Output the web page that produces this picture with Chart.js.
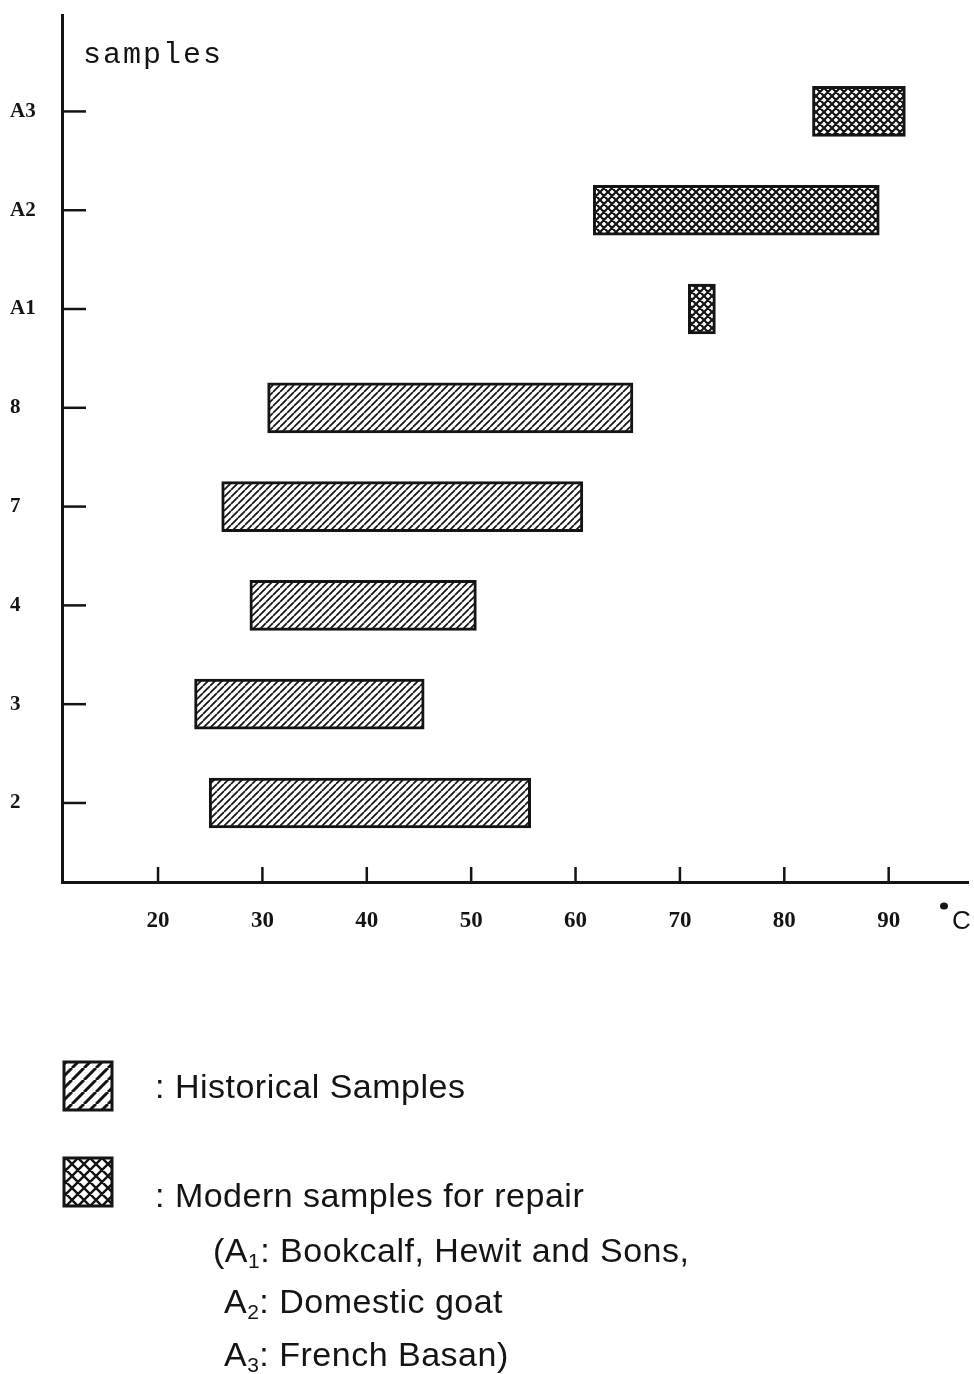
<!DOCTYPE html>
<html>
<head>
<meta charset="utf-8">
<script src="https://cdn.jsdelivr.net/npm/chart.js@4/dist/chart.umd.min.js"></script>
<style>
  html, body { margin: 0; padding: 0; background: #fff; }
  #wrap { width: 974px; height: 1374px; }
</style>
</head>
<body>
<div id="wrap"><canvas id="chart" width="974" height="1374"></canvas></div>
<script>
// samples, bottom to top on the y axis
const sampleLabels = ['2', '3', '4', '7', '8', 'A1', 'A2', 'A3'];
const sampleRows = [1, 2, 3, 4, 5, 6, 7, 8];

// historical samples: shrinkage temperature range (°C)
const historicalRows = [1, 2, 3, 4, 5];
const historicalStart = [24.9, 23.5, 28.8, 26.1, 30.5];
const historicalEnd = [55.7, 45.5, 50.5, 60.7, 65.5];

// modern samples for repair
const modernRows = [6, 7, 8];
const modernStart = [70.8, 61.7, 82.7];
const modernEnd = [73.4, 89.1, 91.6];

const tempTicks = [20, 30, 40, 50, 60, 70, 80, 90];

const INK = '#141414';

// hatch fills
function makeHatch(size, lw, cross) {
  const c = document.createElement('canvas');
  c.width = c.height = size;
  const g = c.getContext('2d');
  g.fillStyle = '#fff';
  g.fillRect(0, 0, size, size);
  g.strokeStyle = INK;
  g.lineWidth = lw;
  g.beginPath();
  for (const k of [-size, 0, size]) {
    g.moveTo(k, size);
    g.lineTo(k + size, 0);
    if (cross) {
      g.moveTo(k, 0);
      g.lineTo(k + size, size);
    }
  }
  g.stroke();
  return g.createPattern(c, 'repeat');
}

const ctx = document.getElementById('chart').getContext('2d');
const diagFill = makeHatch(7, 1.7, false);
const crossFill = makeHatch(8, 2.2, true);
const diagSwatch = makeHatch(12, 3, false);
const crossSwatch = makeHatch(12, 2.4, true);

// text with subscript digits, parts = [[text, isSub], ...]
function drawParts(g, x, y, parts, size) {
  g.letterSpacing = '0.5px';
  for (const [t, sub] of parts) {
    g.font = (sub ? Math.round(size * 0.62) : size) + 'px "Liberation Sans", Arial, sans-serif';
    g.fillText(t, x, sub ? y + size * 0.18 : y);
    x += g.measureText(t).width;
  }
  g.letterSpacing = '0px';
}

const decorations = {
  id: 'decorations',
  afterDatasetsDraw(chart) {
    const { ctx: g, scales: { x, y }, chartArea: a } = chart;
    g.save();
    g.strokeStyle = INK;
    g.lineWidth = 2.5;
    // inward tick marks
    x.ticks.forEach(t => {
      const px = x.getPixelForValue(t.value);
      g.beginPath();
      g.moveTo(px, a.bottom);
      g.lineTo(px, a.bottom - 15);
      g.stroke();
    });
    y.ticks.forEach(t => {
      const py = y.getPixelForValue(t.value);
      g.beginPath();
      g.moveTo(a.left, py);
      g.lineTo(a.left + 24, py);
      g.stroke();
    });

    g.fillStyle = INK;
    g.textBaseline = 'alphabetic';
    g.font = '30px "Liberation Mono", "DejaVu Sans Mono", monospace';
    g.letterSpacing = '2px';
    g.fillText('samples', 83, 63);
    g.letterSpacing = '0px';

    // °C unit
    g.beginPath();
    g.ellipse(944, 906, 4, 3.5, 0, 0, Math.PI * 2);
    g.fill();
    g.font = '26px "Liberation Sans", Arial, sans-serif';
    g.fillText('C', 952, 929);

    // key
    const sw = [[diagSwatch, 1062], [crossSwatch, 1158]];
    sw.forEach(([p, top]) => {
      g.fillStyle = p;
      g.fillRect(64, top, 48, 48);
      g.lineWidth = 3;
      g.strokeRect(64, top, 48, 48);
    });
    g.fillStyle = INK;
    const fs = 34;
    drawParts(g, 155, 1098, [[': Historical Samples', 0]], fs);
    drawParts(g, 155, 1207, [[': Modern samples for repair', 0]], fs);
    drawParts(g, 213, 1262, [['(A', 0], ['1', 1], [': Bookcalf, Hewit and Sons,', 0]], fs);
    drawParts(g, 224, 1313, [['A', 0], ['2', 1], [': Domestic goat', 0]], fs);
    drawParts(g, 224, 1366, [['A', 0], ['3', 1], [': French Basan)', 0]], fs);
    g.restore();
  }
};

new Chart(ctx, {
  type: 'bar',
  data: {
    datasets: [
      {
        label: 'Historical Samples',
        data: historicalRows.map((r, i) => ({ y: r, x: [historicalStart[i], historicalEnd[i]] })),
        backgroundColor: diagFill
      },
      {
        label: 'Modern samples for repair',
        data: modernRows.map((r, i) => ({ y: r, x: [modernStart[i], modernEnd[i]] })),
        backgroundColor: crossFill
      }
    ]
  },
  options: {
    indexAxis: 'y',
    responsive: false,
    animation: false,
    layout: { padding: { top: 12, left: 10, right: 6, bottom: 432 } },
    datasets: {
      bar: {
        grouped: false,
        barThickness: 50,
        borderColor: INK,
        borderWidth: 3,
        borderSkipped: false
      }
    },
    plugins: {
      legend: { display: false },
      tooltip: { enabled: false }
    },
    scales: {
      x: {
        type: 'linear',
        min: 10.8,
        max: 97.6,
        afterBuildTicks: s => { s.ticks = tempTicks.map(v => ({ value: v })); },
        afterFit: s => { s.height = 60; },
        grid: { display: false, drawTicks: false },
        border: { display: true, color: INK, width: 3 },
        ticks: {
          padding: 25,
          color: INK,
          font: { family: '"Liberation Serif", "DejaVu Serif", serif', size: 23, weight: 'bold' }
        }
      },
      y: {
        type: 'linear',
        offset: false,
        min: 0.2,
        max: 8.97,
        afterBuildTicks: s => { s.ticks = sampleRows.map(v => ({ value: v })); },
        afterFit: s => { s.width = 52; },
        grid: { display: false, drawTicks: false },
        border: { display: true, color: INK, width: 3 },
        ticks: {
          crossAlign: 'far',
          color: INK,
          callback: v => sampleLabels[v - 1],
          font: { family: '"Liberation Serif", "DejaVu Serif", serif', size: 21, weight: 'bold' }
        }
      }
    }
  },
  plugins: [decorations]
});
</script>
</body>
</html>
